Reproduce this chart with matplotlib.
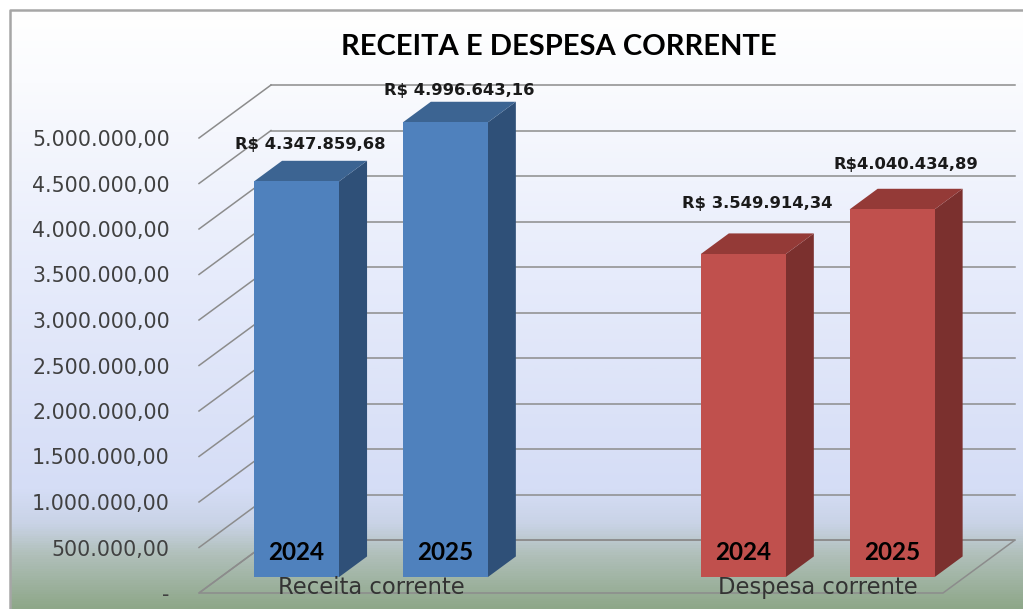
import matplotlib
matplotlib.use("Agg")
import matplotlib.pyplot as plt
from matplotlib.patches import Polygon
from matplotlib.colors import LinearSegmentedColormap
import numpy as np

# data
categories = ["Receita corrente", "Despesa corrente"]
years = ["2024", "2025"]
receita = [4347859.68, 4996643.16]
despesa = [3549914.34, 4040434.89]
value_labels = [["R$ 4.347.859,68", "R$ 4.996.643,16"],
                ["R$ 3.549.914,34", "R$4.040.434,89"]]
tick_values = [0, 500000, 1000000, 1500000, 2000000, 2500000,
               3000000, 3500000, 4000000, 4500000, 5000000]
tick_labels = ["-", "500.000,00", "1.000.000,00", "1.500.000,00", "2.000.000,00",
               "2.500.000,00", "3.000.000,00", "3.500.000,00", "4.000.000,00",
               "4.500.000,00", "5.000.000,00"]
title = "RECEITA E DESPESA CORRENTE"

series = [receita, despesa]

# 3d look (oblique projection): depth offsets in data units
DX = 0.1935
DY = 582000
D0, D1 = 0.30, 0.69          # bar front / back depth fraction
GROUP_CENTERS = [0.404, 1.605]
BAR_OFF = 0.20
BAR_W = 0.2285
LABEL_PAD = [[16, 11], [30, 24]]   # px from bar top (back edge) to label centre

FRONT = ["#4f81bd", "#c0504d"]
TOP = ["#3c6492", "#943a37"]
SIDE = ["#2f5078", "#7b302e"]
GRID = "#8c8c8c"
FONT = "Lato"
WIDE = "DejaVu Sans"

W, H = 1023, 609
fig = plt.figure(figsize=(W / 100, H / 100), dpi=100)

# background gradient
bg = fig.add_axes([0, 0, 1, 1], zorder=-10)
bg.set_xlim(0, W)
bg.set_ylim(H, 0)
bg.axis("off")
cmap = LinearSegmentedColormap.from_list("bg", [
    (0.0, "#ffffff"), (0.12, "#fafbfe"), (0.45, "#e6ebfb"), (0.80, "#d5ddf6"),
    (0.86, "#c9d3e6"), (0.91, "#b1c0bb"), (1.0, "#8ea789")])
grad = np.linspace(0, 1, 600).reshape(-1, 1)
bg.imshow(grad, cmap=cmap, aspect="auto", extent=[10, W + 5, H, 10], zorder=0)
bg.plot([10, 10, W + 5], [H, 10, 10], color="#a6a6a6", lw=1.8, zorder=1)

# front plane axes
left_px, right_px, base_px, px_per_m = 199, 943, 593, 91.0
ymax = 5.5e6
ax = fig.add_axes([left_px / W, (H - base_px) / H, (right_px - left_px) / W,
                   px_per_m * ymax / 1e6 / H])
ax.set_xlim(0, 2)
ax.set_ylim(0, ymax)
ax.patch.set_alpha(0)
for s in ax.spines.values():
    s.set_visible(False)
ax.set_xticks([])
ax.set_yticks(tick_values)
ax.set_yticklabels(tick_labels)
ax.tick_params(axis="y", length=0, pad=21, labelsize=14.8, labelcolor="#404040")
for t in ax.get_yticklabels():
    t.set_fontfamily(WIDE)


def proj(x, v, d):
    return (x + d * DX, v + d * DY)


# walls and gridlines
for v in tick_values:
    ax.plot([0, DX], [v, v + DY], color=GRID, lw=1.1, clip_on=False, zorder=1)
    ax.plot([DX, 2 + DX], [v + DY, v + DY], color=GRID, lw=1.1, clip_on=False, zorder=1)
floor = [proj(0, 0, 0), proj(2, 0, 0), proj(2, 0, 1), proj(0, 0, 1)]
ax.add_patch(Polygon(floor, closed=True, fill=False, edgecolor=GRID, lw=1.1,
                     clip_on=False, zorder=1))

# bars
for g, vals in enumerate(series):
    for i, h in enumerate(vals):
        xc = GROUP_CENTERS[g] + (i - 0.5) * 2 * BAR_OFF
        xl, xr = xc - BAR_W / 2, xc + BAR_W / 2
        front = [proj(xl, 0, D0), proj(xr, 0, D0), proj(xr, h, D0), proj(xl, h, D0)]
        top = [proj(xl, h, D0), proj(xr, h, D0), proj(xr, h, D1), proj(xl, h, D1)]
        side = [proj(xr, 0, D0), proj(xr, h, D0), proj(xr, h, D1), proj(xr, 0, D1)]
        ax.add_patch(Polygon(side, closed=True, facecolor=SIDE[g], lw=0,
                             clip_on=False, zorder=3))
        ax.add_patch(Polygon(top, closed=True, facecolor=TOP[g], lw=0,
                             clip_on=False, zorder=3))
        ax.add_patch(Polygon(front, closed=True, facecolor=FRONT[g], lw=0,
                             clip_on=False, zorder=4))
        fx = xc + D0 * DX
        ax.text(fx, D0 * DY + 275000, years[i], ha="center", va="center",
                fontsize=17.5, fontweight="bold", color="black", family=FONT,
                zorder=6)
        lx = (xl + D0 * DX + xr + D1 * DX) / 2
        ly = h + D1 * DY + LABEL_PAD[g][i] / px_per_m * 1e6
        ax.text(lx, ly, value_labels[g][i], ha="center", va="center",
                fontsize=11.8, fontweight="bold", color="#1a1a1a", family=WIDE,
                zorder=6)
    ax.text(GROUP_CENTERS[g] + D0 * DX, 55000, categories[g], ha="center",
            va="center", fontsize=16.3, color="#333333", family=WIDE, zorder=6)

fig.text(559 / W, 1 - 47 / H, title, ha="center", va="center", fontsize=21,
         fontweight="bold", color="black", family=FONT)

fig.savefig("out.png", dpi=100)
